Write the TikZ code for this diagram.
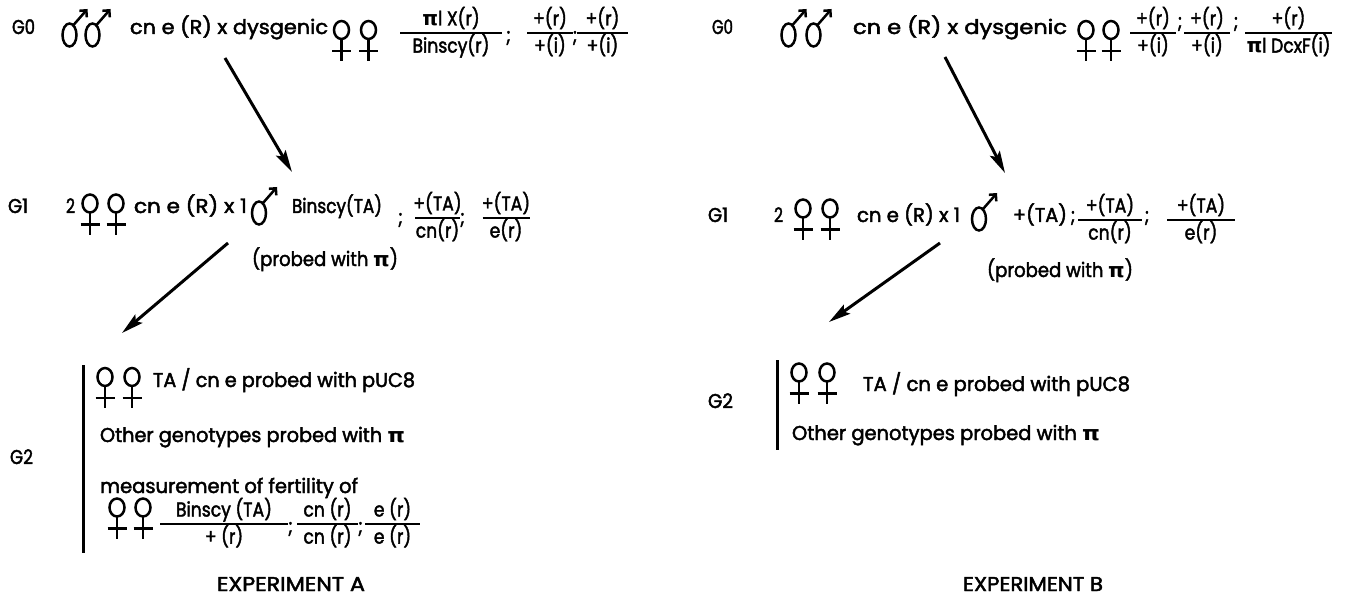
\documentclass[tikz,border=0pt]{standalone}
\usepackage{graphicx}
\usepackage{fontspec}
\setmainfont{Poppins}[FakeStretch=0.86, FakeBold=2]
\newfontfamily\grk{DejaVu Sans}
\usetikzlibrary{arrows.meta}
\newcommand{\pis}{{\grk\bfseries π}}
\newcommand{\fitw}[2]{\resizebox{#1}{\height}{#2}}
\newcommand{\fr}[3]{\begin{tabular}{@{}c@{}}\makebox[#1]{#2}\\\hline\makebox[#1]{#3}\end{tabular}}
\setlength{\arrayrulewidth}{1.8pt}
\begin{document}
\begin{tikzpicture}[x=1pt,y=-1pt,
  txt/.style={inner sep=0pt, outer sep=0pt, font=\fontsize{20}{22}\selectfont, anchor=base west},
  semi/.style={inner sep=0pt, outer sep=0pt, font=\fontsize{20}{22}\selectfont, anchor=base},
  frc/.style={inner sep=0pt, outer sep=0pt, font=\fontsize{20}{22}\selectfont, anchor=center},
  sym/.style={line width=2.5pt},
  bigarrow/.style={line width=3pt, -{Stealth[length=22pt,width=11pt,inset=4pt]}},
  vbar/.style={line width=3pt},
  fem/.pic={\draw[sym] (0,0) ellipse [x radius=7.5, y radius=9]; \draw[sym] (0,9) -- (0,31); \draw[sym] (-9.5,21) -- (9.5,21);},
  mal/.pic={\draw[sym] (0,0) ellipse [x radius=7, y radius=11.5]; \draw[sym, -{Straight Barb[angle=90:7pt]}] (4,-10) -- (18,-26);}
]
\useasboundingbox (0,0) rectangle (1345,599);

% ================= EXPERIMENT A =================
% G0
\node[txt] (a0lab) at (12,34) {\fitw{23pt}{G0}};
\pic at (69.5,35) {mal};
\pic at (92.5,35) {mal};
\node[txt] (a0cross) at (130,34) {\fitw{198pt}{cn e (R) x dysgenic}};
\pic at (341.5,30) {fem};
\pic at (368.5,30) {fem};
\node[frc] (a0f1) at (451,33) {\fr{102pt}{\pis l X(r)}{Binscy(r)}};
\node[semi] (a0s1) at (508.5,42) {;};
\node[frc] (a0f2) at (550,33) {\fr{46pt}{+(r)}{+(i)}};
\node[semi] (a0s2) at (575,42) {;};
\node[frc] (a0f3) at (602.5,33) {\fr{51pt}{+(r)}{+(i)}};

\coordinate (a01s) at (225,58);
\coordinate (a01e) at (292,172);
\draw[bigarrow] (a01s) -- (a01e);

% G1
\node[txt] (a1lab) at (8,213) {\fitw{20pt}{G1}};
\node[txt] (a1two) at (66,213) {\fitw{9pt}{2}};
\pic at (90,203.5) {fem};
\pic at (116,203.5) {fem};
\node[txt] (a1cross) at (134,213) {\fitw{113pt}{cn e (R) x 1}};
\pic at (259,213) {mal};
\node[txt] (a1male) at (292,213) {\fitw{90pt}{Binscy(TA)}};
\node[semi] (a1s1) at (400.5,224) {;};
\node[frc] (a1f1) at (437.5,218) {\fr{45pt}{+(TA)}{cn(r)}};
\node[semi] (a1s2) at (462.5,224) {;};
\node[frc] (a1f2) at (506,218) {\fr{47pt}{+(TA)}{e(r)}};
\node[txt] (a1probe) at (252,266) {\fitw{146pt}{(probed with \pis)}};

\coordinate (a12s) at (228,243);
\coordinate (a12e) at (122,333);
\draw[bigarrow] (a12s) -- (a12e);

% G2
\coordinate (a2top) at (83,365);
\coordinate (a2bot) at (83,553);
\draw[vbar] (a2top) -- (a2bot);
\node[txt] (a2lab) at (10,464) {\fitw{23pt}{G2}};
\pic at (105,377) {fem};
\pic at (132,377) {fem};
\node[txt] (a2l1) at (153,387) {\fitw{262pt}{TA / cn e probed with pUC8}};
\node[txt] (a2l2) at (100,442) {\fitw{305pt}{Other genotypes probed with \pis}};
\node[txt] (a2l3) at (100,493) {\fitw{258pt}{measurement of fertility of}};
\pic at (117,507.5) {fem};
\pic at (143,507.5) {fem};
\node[frc] (a2f1) at (224,524) {\fr{128pt}{Binscy (TA)}{+ (r)}};
\node[semi] (a2s1) at (290.5,533) {;};
\node[frc] (a2f2) at (327.5,524) {\fr{61pt}{cn (r)}{cn (r)}};
\node[semi] (a2s2) at (360.5,533) {;};
\node[frc] (a2f3) at (392.5,524) {\fr{55pt}{e (r)}{e (r)}};

\node[txt] (expA) at (217,591) {\fitw{148pt}{EXPERIMENT A}};

% ================= EXPERIMENT B =================
% G0
\node[txt] (b0lab) at (712,34) {\fitw{21pt}{G0}};
\pic at (788.5,35) {mal};
\pic at (813.5,35) {mal};
\node[txt] (b0cross) at (853,34) {\fitw{214pt}{cn e (R) x dysgenic}};
\pic at (1086,30) {fem};
\pic at (1111,30) {fem};
\node[frc] (b0f1) at (1153,33) {\fr{46pt}{+(r)}{+(i)}};
\node[semi] (b0s1) at (1180,28) {;};
\node[frc] (b0f2) at (1207,33) {\fr{46pt}{+(r)}{+(i)}};
\node[semi] (b0s2) at (1236,28) {;};
\node[frc] (b0f3) at (1288.5,33) {\fr{87pt}{+(r)}{\pis l DcxF(i)}};

\coordinate (b01s) at (945,57);
\coordinate (b01e) at (1005,173);
\draw[bigarrow] (b01s) -- (b01e);

% G1
\node[txt] (b1lab) at (708,222) {\fitw{20pt}{G1}};
\node[txt] (b1two) at (774,222) {\fitw{9pt}{2}};
\pic at (803,208.5) {fem};
\pic at (830,208.5) {fem};
\node[txt] (b1cross) at (857,222) {\fitw{103pt}{cn e (R) x 1}};
\pic at (979,219) {mal};
\node[txt] (b1male) at (1013,222) {\fitw{54pt}{+(TA)}};
\node[semi] (b1s1) at (1073,222) {;};
\node[frc] (b1f1) at (1110,220) {\fr{64pt}{+(TA)}{cn(r)}};
\node[semi] (b1s2) at (1147,222) {;};
\node[frc] (b1f2) at (1201,220) {\fr{68pt}{+(TA)}{e(r)}};
\node[txt] (b1probe) at (987,277) {\fitw{146pt}{(probed with \pis)}};

\coordinate (b12s) at (940,243);
\coordinate (b12e) at (829,322);
\draw[bigarrow] (b12s) -- (b12e);

% G2
\coordinate (b2top) at (777,360);
\coordinate (b2bot) at (777,450);
\draw[vbar] (b2top) -- (b2bot);
\node[txt] (b2lab) at (708,408) {\fitw{25pt}{G2}};
\pic at (799,372.5) {fem};
\pic at (827,372.5) {fem};
\node[txt] (b2l1) at (863,391) {\fitw{267pt}{TA / cn e probed with pUC8}};
\node[txt] (b2l2) at (792,440) {\fitw{308pt}{Other genotypes probed with \pis}};

\node[txt] (expB) at (963,591) {\fitw{140pt}{EXPERIMENT B}};
\end{tikzpicture}
\end{document}
